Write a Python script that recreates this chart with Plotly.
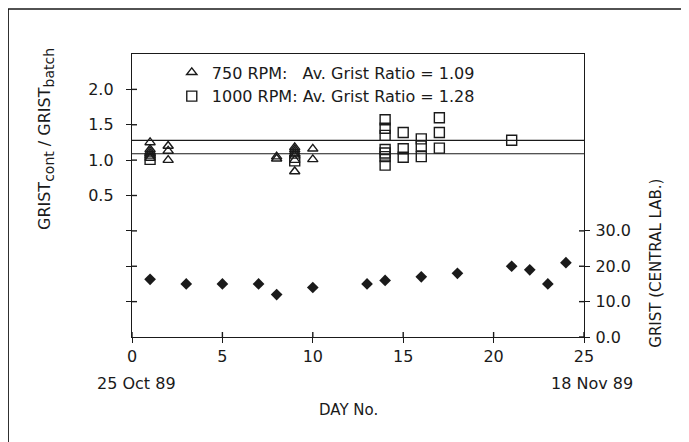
import plotly.graph_objects as go

# ---- data ----
tri_day = [1, 1, 1, 1, 1, 1, 2, 2, 2, 8, 8, 9, 9, 9, 9, 9, 9, 9, 10, 10]
tri_ratio = [1.25, 1.15, 1.12, 1.09, 1.06, 1.03, 1.20, 1.13, 1.00, 1.05, 1.02,
             1.18, 1.15, 1.12, 1.09, 1.06, 1.00, 0.84, 1.16, 1.01]

sq_day = [1, 9, 14, 14, 14, 14, 14, 14, 14, 15, 15, 15, 16, 16, 16, 17, 17, 17, 21]
sq_ratio = [1.01, 0.99, 1.57, 1.45, 1.35, 1.15, 1.10, 1.05, 0.93,
            1.39, 1.16, 1.04, 1.30, 1.20, 1.05, 1.60, 1.39, 1.17, 1.28]

lab_day = [1, 3, 5, 7, 8, 10, 13, 14, 16, 18, 21, 22, 23, 24]
lab_grist = [16.3, 15, 15, 15, 12, 14, 15, 16, 17, 18, 20, 19, 15, 21]

avg_ratio = [1.09, 1.28]
series_names = ["750 RPM:   Av. Grist Ratio = ", "1000 RPM: Av. Grist Ratio = "]

left_ticks = [-1.0, -0.5, 0.0, 0.5, 1.0, 1.5, 2.0]
left_ticktext = ["", "", "", "0.5", "1.0", "1.5", "2.0"]
right_ticks = [0, 10, 20, 30]
right_ticktext = ["0.0", "10.0", "20.0", "30.0"]
x_ticks = [0, 5, 10, 15, 20, 25]
date_labels = ["25 Oct 89", "18 Nov 89"]
date_days = [0, 25]

INK = "#1a1a1a"
FONT = "DejaVu Sans"
XR = [0, 25]
YL = [-1.5, 2.5]
YR = [0, 80]
TL = 5  # tick half-length (px)

fig = go.Figure()

fig.add_trace(go.Scatter(
    x=tri_day, y=tri_ratio, mode="markers",
    name=series_names[0] + f"{avg_ratio[0]:.2f}",
    marker=dict(symbol="triangle-up-open", size=9, color=INK, line=dict(width=1.4, color=INK)),
))
fig.add_trace(go.Scatter(
    x=sq_day, y=sq_ratio, mode="markers",
    name=series_names[1] + f"{avg_ratio[1]:.2f}",
    marker=dict(symbol="square-open", size=10, color=INK, line=dict(width=1.4, color=INK)),
))
fig.add_trace(go.Scatter(
    x=lab_day, y=lab_grist, mode="markers", yaxis="y2", showlegend=False,
    marker=dict(symbol="diamond", size=9, color=INK, line=dict(width=0)),
))

for v in avg_ratio:
    fig.add_hline(y=v, line=dict(color=INK, width=1.2), layer="below")

axis_common = dict(showgrid=False, zeroline=False, linecolor=INK, linewidth=1.4,
                   tickcolor=INK, tickwidth=1.4,
                   tickfont=dict(family=FONT, size=16, color=INK))

# the page adds an 8px body margin, so the figure is 8px smaller each way
fig.update_layout(
    width=681, height=434,
    margin=dict(l=124, r=105, t=46, b=105),
    paper_bgcolor="white", plot_bgcolor="white",
    font=dict(family=FONT, color=INK),
    xaxis=dict(range=XR, tickvals=x_ticks, ticks="outside", ticklen=TL,
               showline=True, mirror=True, ticklabelstandoff=0, **axis_common),
    yaxis=dict(range=YL, tickvals=left_ticks, ticktext=left_ticktext, ticks="outside",
               ticklen=TL, showline=True, ticklabelstandoff=9, **axis_common),
    yaxis2=dict(range=YR, overlaying="y", anchor="x", side="right", tickvals=right_ticks,
                ticktext=right_ticktext, ticks="outside", ticklen=TL, showline=True,
                ticklabelstandoff=2, **axis_common),
    showlegend=True,
    legend=dict(x=0.088, y=0.995, xanchor="left", yanchor="top", bgcolor="rgba(0,0,0,0)",
                font=dict(family=FONT, size=16, color=INK), itemwidth=30),
)

# inner halves of the crossing tick marks
tick_line = dict(color=INK, width=1.4)
for t in x_ticks:
    fig.add_shape(type="line", xref="x", yref="y domain", x0=t, x1=t,
                  ysizemode="pixel", yanchor=0, y0=0, y1=TL, line=tick_line)
for t in left_ticks:
    fig.add_shape(type="line", xref="x domain", yref="y", y0=t, y1=t,
                  xsizemode="pixel", xanchor=0, x0=0, x1=TL, line=tick_line)
for t in right_ticks:
    fig.add_shape(type="line", xref="x domain", yref="y2", y0=t, y1=t,
                  xsizemode="pixel", xanchor=1, x0=-TL, x1=0, line=tick_line)

# outer frame
fig.add_shape(type="rect", xref="paper", yref="paper",
              x0=-0.274, x1=1.2235, y0=-0.40, y1=1.159,
              line=dict(color=INK, width=1.5), fillcolor="rgba(0,0,0,0)")

# axis titles
sub = "<sub><span style='font-size:14px'>{}</span></sub>"
fig.add_annotation(text="GRIST" + sub.format("cont") + " / GRIST" + sub.format("batch"),
                   xref="paper", yref="paper", x=-0.19, y=0.70, textangle=-90,
                   xanchor="center", yanchor="middle",
                   showarrow=False, font=dict(family=FONT, size=16, color=INK))
fig.add_annotation(text="GRIST (CENTRAL LAB.)",
                   xref="paper", yref="paper", x=1.16, y=0.26, textangle=-90,
                   xanchor="center", yanchor="middle",
                   showarrow=False, font=dict(family=FONT, size=15, color=INK))
fig.add_annotation(text="DAY No.", xref="paper", yref="paper", x=0.478, y=-0.258,
                   xanchor="center", yanchor="middle",
                   showarrow=False, font=dict(family=FONT, size=15, color=INK))
for d, lab in zip(date_days, date_labels):
    fig.add_annotation(text=lab, xref="x", yref="paper", x=d, y=-0.166, showarrow=False,
                       xanchor="center", yanchor="middle",
                       xshift=8 if d == date_days[-1] else 4,
                       font=dict(family=FONT, size=16, color=INK))

fig.write_html("out.html")
